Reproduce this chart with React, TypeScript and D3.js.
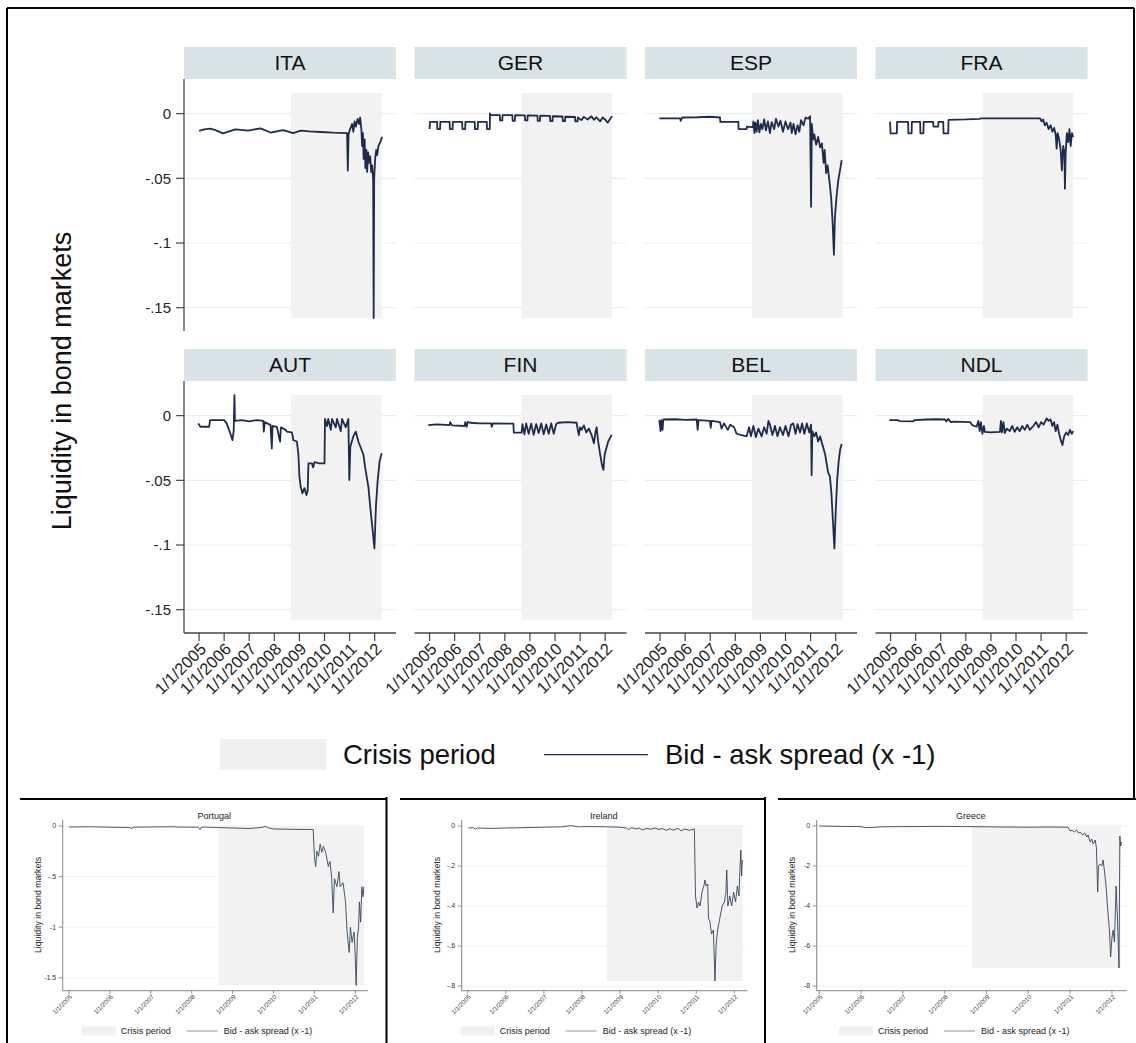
import React from "react";
import * as d3 from "d3";

type Pt = [number, number];

// ---------------- DATA ----------------
const TOP_NAMES = ["ITA", "GER", "ESP", "FRA", "AUT", "FIN", "BEL", "NDL"];

const ITA: Pt[] = [[2005.00,-0.0134],[2005.20,-0.0121],[2005.45,-0.0116],[2005.65,-0.0127],[2005.95,-0.0152],[2006.45,-0.0121],[2006.95,-0.0131],[2007.45,-0.0114],[2007.85,-0.0146],[2008.35,-0.0127],[2008.75,-0.0150],[2009.05,-0.0131],[2009.40,-0.0137],[2009.85,-0.0142],[2010.35,-0.0147],[2010.90,-0.0150],[2010.93,-0.044],[2010.96,-0.016],[2011.02,-0.012],[2011.10,-0.008],[2011.15,-0.014],[2011.20,-0.006],[2011.25,-0.010],[2011.32,-0.004],[2011.38,-0.008],[2011.42,-0.003],[2011.47,-0.012],[2011.50,-0.025],[2011.53,-0.015],[2011.56,-0.035],[2011.60,-0.020],[2011.63,-0.042],[2011.67,-0.028],[2011.70,-0.045],[2011.74,-0.030],[2011.78,-0.038],[2011.82,-0.033],[2011.86,-0.045],[2011.90,-0.040],[2011.94,-0.052],[2011.96,-0.158],[2011.98,-0.050],[2012.02,-0.035],[2012.06,-0.028],[2012.10,-0.032],[2012.15,-0.025],[2012.22,-0.022],[2012.30,-0.018]];

const GER: Pt[] = [[2005.00,-0.0119],[2005.02,-0.0063],[2005.30,-0.0063],[2005.31,-0.0119],[2005.42,-0.0119],[2005.43,-0.0063],[2005.80,-0.0063],[2005.81,-0.0119],[2005.92,-0.0119],[2005.93,-0.0063],[2006.30,-0.0063],[2006.31,-0.0119],[2006.42,-0.0119],[2006.43,-0.0063],[2006.80,-0.0063],[2006.81,-0.0119],[2006.92,-0.0119],[2006.93,-0.0063],[2007.28,-0.0063],[2007.29,-0.0119],[2007.40,-0.0119],[2007.41,0.0002],[2007.42,-0.0010],[2007.80,-0.0012],[2007.81,-0.0052],[2007.90,-0.0052],[2007.91,-0.0012],[2008.30,-0.0012],[2008.31,-0.0055],[2008.40,-0.0055],[2008.41,-0.0012],[2008.80,-0.0014],[2008.81,-0.0052],[2008.90,-0.0052],[2008.91,-0.0014],[2009.30,-0.0015],[2009.31,-0.0055],[2009.40,-0.0055],[2009.41,-0.0016],[2009.80,-0.0018],[2009.81,-0.0058],[2009.90,-0.0058],[2009.91,-0.0020],[2010.30,-0.0022],[2010.31,-0.0058],[2010.40,-0.0058],[2010.41,-0.0024],[2010.80,-0.0026],[2010.81,-0.0060],[2010.90,-0.0060],[2010.91,-0.0030],[2011.05,-0.0050],[2011.15,-0.0025],[2011.30,-0.0045],[2011.45,-0.0020],[2011.55,-0.0048],[2011.65,-0.0028],[2011.80,-0.0060],[2011.90,-0.0030],[2012.00,-0.0045],[2012.10,-0.0070],[2012.20,-0.0040],[2012.28,-0.0020]];

const ESP: Pt[] = [[2004.97,-0.0036],[2005.80,-0.0036],[2005.82,-0.0055],[2005.88,-0.0030],[2006.50,-0.0028],[2007.00,-0.0024],[2007.39,-0.0030],[2007.40,-0.0064],[2008.12,-0.0064],[2008.13,-0.0119],[2008.45,-0.0119],[2008.46,-0.0100],[2008.70,-0.0105],[2008.72,-0.0060],[2008.76,-0.0150],[2008.80,-0.0070],[2008.85,-0.0140],[2008.90,-0.0050],[2008.96,-0.0145],[2009.02,-0.0080],[2009.08,-0.0120],[2009.15,-0.0045],[2009.22,-0.0130],[2009.30,-0.0060],[2009.38,-0.0150],[2009.45,-0.0065],[2009.55,-0.0120],[2009.62,-0.0040],[2009.72,-0.0100],[2009.80,-0.0055],[2009.90,-0.0140],[2010.00,-0.0060],[2010.10,-0.0120],[2010.20,-0.0070],[2010.25,-0.0150],[2010.32,-0.0080],[2010.40,-0.0160],[2010.48,-0.0090],[2010.55,-0.0140],[2010.62,-0.0050],[2010.72,-0.0090],[2010.80,-0.0030],[2010.90,-0.0040],[2010.98,-0.0020],[2011.02,-0.0720],[2011.05,-0.0080],[2011.10,-0.0200],[2011.15,-0.0160],[2011.22,-0.0240],[2011.30,-0.0180],[2011.38,-0.0260],[2011.45,-0.0230],[2011.52,-0.0380],[2011.56,-0.0280],[2011.62,-0.0460],[2011.68,-0.0400],[2011.75,-0.0520],[2011.82,-0.0650],[2011.88,-0.0850],[2011.93,-0.1090],[2011.97,-0.0800],[2012.03,-0.0650],[2012.10,-0.0520],[2012.17,-0.0440],[2012.24,-0.0360]];

const FRA: Pt[] = [[2004.98,-0.0063],[2005.00,-0.0152],[2005.25,-0.0152],[2005.26,-0.0063],[2005.70,-0.0063],[2005.71,-0.0152],[2005.84,-0.0152],[2005.85,-0.0063],[2006.18,-0.0063],[2006.19,-0.0152],[2006.31,-0.0152],[2006.32,-0.0063],[2006.70,-0.0063],[2006.71,-0.0100],[2006.90,-0.0100],[2006.91,-0.0063],[2007.10,-0.0063],[2007.11,-0.0152],[2007.30,-0.0152],[2007.31,-0.0048],[2008.00,-0.0045],[2008.57,-0.0040],[2008.60,-0.0036],[2010.96,-0.0036],[2011.02,-0.0060],[2011.08,-0.0045],[2011.15,-0.0090],[2011.22,-0.0070],[2011.30,-0.0120],[2011.38,-0.0090],[2011.45,-0.0140],[2011.52,-0.0110],[2011.58,-0.0160],[2011.62,-0.0270],[2011.66,-0.0150],[2011.72,-0.0200],[2011.78,-0.0280],[2011.83,-0.0440],[2011.88,-0.0250],[2011.93,-0.0300],[2011.95,-0.0580],[2011.98,-0.0300],[2012.03,-0.0150],[2012.08,-0.0220],[2012.13,-0.0120],[2012.18,-0.0250],[2012.23,-0.0150],[2012.28,-0.0180]];

const AUT: Pt[] = [[2004.97,-0.0060],[2005.05,-0.0086],[2005.40,-0.0086],[2005.44,-0.0034],[2006.00,-0.0034],[2006.10,-0.0060],[2006.25,-0.0140],[2006.33,-0.0189],[2006.38,-0.0120],[2006.41,0.0159],[2006.43,-0.0040],[2006.70,-0.0034],[2007.00,-0.0045],[2007.30,-0.0034],[2007.56,-0.0040],[2007.58,-0.0124],[2007.62,-0.0050],[2007.85,-0.0073],[2007.90,-0.0253],[2007.93,-0.0080],[2008.10,-0.0086],[2008.23,-0.0201],[2008.26,-0.0090],[2008.45,-0.0110],[2008.50,-0.0124],[2008.70,-0.0130],[2008.76,-0.0190],[2008.90,-0.0200],[2008.96,-0.0300],[2009.00,-0.0470],[2009.05,-0.0550],[2009.12,-0.0600],[2009.20,-0.0560],[2009.28,-0.0614],[2009.33,-0.0580],[2009.36,-0.0369],[2009.50,-0.0369],[2009.55,-0.0400],[2009.60,-0.0360],[2009.80,-0.0369],[2010.00,-0.0369],[2010.02,-0.0026],[2010.10,-0.0080],[2010.15,-0.0026],[2010.25,-0.0110],[2010.30,-0.0026],[2010.45,-0.0090],[2010.50,-0.0026],[2010.65,-0.0120],[2010.70,-0.0026],[2010.85,-0.0090],[2010.95,-0.0026],[2010.99,-0.0498],[2011.03,-0.0240],[2011.15,-0.0160],[2011.25,-0.0124],[2011.35,-0.0200],[2011.45,-0.0250],[2011.55,-0.0300],[2011.62,-0.0400],[2011.68,-0.0472],[2011.75,-0.0550],[2011.82,-0.0700],[2011.90,-0.0850],[2011.99,-0.1026],[2012.05,-0.0700],[2012.12,-0.0500],[2012.20,-0.0350],[2012.28,-0.0291]];

const FIN: Pt[] = [[2004.95,-0.0073],[2005.30,-0.0068],[2005.80,-0.0073],[2005.82,-0.0050],[2005.90,-0.0075],[2006.40,-0.0080],[2006.42,-0.0050],[2006.48,-0.0086],[2006.52,-0.0048],[2006.61,-0.0055],[2007.00,-0.0060],[2007.45,-0.0060],[2007.48,-0.0086],[2007.52,-0.0060],[2008.34,-0.0062],[2008.36,-0.0132],[2008.67,-0.0132],[2008.70,-0.0065],[2008.78,-0.0145],[2008.85,-0.0060],[2008.95,-0.0140],[2009.05,-0.0062],[2009.15,-0.0148],[2009.25,-0.0065],[2009.35,-0.0135],[2009.45,-0.0060],[2009.55,-0.0145],[2009.65,-0.0068],[2009.75,-0.0140],[2009.85,-0.0060],[2009.95,-0.0140],[2010.05,-0.0065],[2010.13,-0.0055],[2010.50,-0.0050],[2010.86,-0.0055],[2010.90,-0.0100],[2010.95,-0.0150],[2011.00,-0.0090],[2011.06,-0.0110],[2011.15,-0.0075],[2011.25,-0.0130],[2011.35,-0.0100],[2011.46,-0.0150],[2011.55,-0.0214],[2011.62,-0.0120],[2011.66,-0.0090],[2011.72,-0.0200],[2011.80,-0.0300],[2011.87,-0.0380],[2011.93,-0.0420],[2011.98,-0.0300],[2012.05,-0.0250],[2012.12,-0.0200],[2012.20,-0.0170],[2012.26,-0.0150]];

const BEL: Pt[] = [[2004.97,-0.0034],[2005.02,-0.0120],[2005.05,-0.0034],[2005.10,-0.0110],[2005.13,-0.0030],[2005.60,-0.0028],[2006.00,-0.0032],[2006.46,-0.0030],[2006.50,-0.0110],[2006.53,-0.0035],[2006.99,-0.0040],[2007.02,-0.0095],[2007.05,-0.0040],[2007.39,-0.0050],[2007.45,-0.0100],[2007.55,-0.0060],[2007.70,-0.0110],[2007.80,-0.0070],[2007.95,-0.0090],[2008.05,-0.0140],[2008.25,-0.0150],[2008.45,-0.0160],[2008.55,-0.0090],[2008.62,-0.0160],[2008.72,-0.0080],[2008.82,-0.0165],[2008.92,-0.0100],[2009.05,-0.0160],[2009.15,-0.0090],[2009.25,-0.0140],[2009.32,-0.0040],[2009.38,-0.0070],[2009.48,-0.0150],[2009.58,-0.0080],[2009.68,-0.0160],[2009.78,-0.0090],[2009.90,-0.0150],[2010.00,-0.0080],[2010.12,-0.0160],[2010.22,-0.0070],[2010.31,-0.0060],[2010.40,-0.0140],[2010.48,-0.0065],[2010.58,-0.0130],[2010.66,-0.0060],[2010.75,-0.0140],[2010.85,-0.0060],[2010.95,-0.0130],[2011.02,-0.0070],[2011.04,-0.0460],[2011.07,-0.0120],[2011.15,-0.0160],[2011.22,-0.0130],[2011.30,-0.0200],[2011.38,-0.0160],[2011.45,-0.0210],[2011.51,-0.0250],[2011.58,-0.0300],[2011.64,-0.0370],[2011.70,-0.0440],[2011.77,-0.0470],[2011.83,-0.0600],[2011.90,-0.0850],[2011.95,-0.1026],[2012.00,-0.0750],[2012.06,-0.0500],[2012.12,-0.0350],[2012.18,-0.0260],[2012.24,-0.0220]];

const NDL: Pt[] = [[2004.95,-0.0034],[2005.31,-0.0034],[2005.35,-0.0042],[2005.91,-0.0045],[2005.95,-0.0034],[2006.44,-0.0030],[2006.80,-0.0028],[2007.17,-0.0030],[2007.22,-0.0045],[2007.30,-0.0025],[2007.40,-0.0050],[2007.50,-0.0047],[2008.17,-0.0050],[2008.25,-0.0073],[2008.43,-0.0086],[2008.50,-0.0040],[2008.55,-0.0120],[2008.60,-0.0050],[2008.66,-0.0140],[2008.72,-0.0080],[2008.76,-0.0125],[2009.00,-0.0130],[2009.36,-0.0125],[2009.40,-0.0040],[2009.44,-0.0130],[2009.50,-0.0050],[2009.55,-0.0135],[2009.63,-0.0100],[2009.75,-0.0120],[2009.85,-0.0080],[2009.95,-0.0125],[2010.05,-0.0090],[2010.15,-0.0120],[2010.25,-0.0080],[2010.35,-0.0110],[2010.45,-0.0070],[2010.55,-0.0110],[2010.69,-0.0080],[2010.80,-0.0050],[2010.90,-0.0090],[2011.00,-0.0050],[2011.10,-0.0070],[2011.22,-0.0021],[2011.30,-0.0040],[2011.38,-0.0030],[2011.45,-0.0080],[2011.52,-0.0050],[2011.58,-0.0120],[2011.65,-0.0070],[2011.72,-0.0140],[2011.80,-0.0200],[2011.85,-0.0227],[2011.92,-0.0160],[2012.00,-0.0130],[2012.08,-0.0150],[2012.15,-0.0110],[2012.22,-0.0140],[2012.28,-0.0120]];

const TOP_SERIES: Pt[][] = [ITA, GER, ESP, FRA, AUT, FIN, BEL, NDL];

const TOP_Y_TICKS = [0, -0.05, -0.1, -0.15];
const TOP_Y_LABELS = ["0", "-.05", "-.1", "-.15"];
const X_TICK_YEARS = [2005, 2006, 2007, 2008, 2009, 2010, 2011, 2012];
const X_TICK_LABELS = ["1/1/2005", "1/1/2006", "1/1/2007", "1/1/2008", "1/1/2009", "1/1/2010", "1/1/2011", "1/1/2012"];
const CRISIS_TOP: [number, number] = [2008.67, 2012.28];
const CRISIS_BOTTOM: [number, number] = [2008.65, 2012.21];

const BOTTOM_NAMES = ["Portugal", "Ireland", "Greece"];

const PORTUGAL: Pt[] = [[2005.00,-0.010],[2005.50,-0.008],[2006.00,-0.012],[2006.50,-0.015],[2006.53,-0.030],[2006.56,-0.012],[2007.00,-0.010],[2007.55,-0.008],[2007.56,0.000],[2007.58,-0.010],[2008.00,-0.012],[2008.16,-0.012],[2008.20,-0.035],[2008.24,-0.010],[2008.60,-0.015],[2009.00,-0.020],[2009.40,-0.025],[2009.70,-0.015],[2009.80,-0.005],[2009.90,-0.020],[2010.00,-0.030],[2010.50,-0.033],[2010.97,-0.035],[2011.00,-0.300],[2011.03,-0.400],[2011.06,-0.250],[2011.10,-0.300],[2011.14,-0.180],[2011.18,-0.260],[2011.22,-0.200],[2011.28,-0.270],[2011.34,-0.400],[2011.38,-0.350],[2011.42,-0.500],[2011.46,-0.860],[2011.49,-0.520],[2011.55,-0.600],[2011.60,-0.450],[2011.63,-0.600],[2011.70,-0.560],[2011.76,-0.750],[2011.80,-1.050],[2011.85,-1.250],[2011.88,-1.000],[2011.92,-1.150],[2011.97,-1.050],[2012.00,-1.300],[2012.02,-1.575],[2012.05,-1.100],[2012.08,-1.000],[2012.10,-0.750],[2012.13,-0.950],[2012.16,-0.600],[2012.19,-0.700],[2012.21,-0.600]];

const IRELAND: Pt[] = [[2005.02,-0.010],[2005.15,-0.008],[2005.20,-0.016],[2005.25,-0.010],[2005.60,-0.012],[2006.00,-0.010],[2006.50,-0.008],[2007.00,-0.006],[2007.50,-0.004],[2007.70,0.002],[2007.90,-0.004],[2008.20,-0.003],[2008.65,-0.004],[2009.00,-0.006],[2009.17,-0.010],[2009.22,-0.018],[2009.30,-0.008],[2009.42,-0.015],[2009.50,-0.010],[2009.58,-0.020],[2009.70,-0.012],[2009.80,-0.016],[2009.92,-0.010],[2010.02,-0.018],[2010.10,-0.012],[2010.22,-0.022],[2010.30,-0.014],[2010.40,-0.020],[2010.52,-0.012],[2010.60,-0.024],[2010.70,-0.015],[2010.82,-0.022],[2010.95,-0.015],[2010.98,-0.350],[2011.02,-0.410],[2011.06,-0.380],[2011.10,-0.400],[2011.15,-0.330],[2011.20,-0.300],[2011.23,-0.270],[2011.26,-0.300],[2011.30,-0.290],[2011.32,-0.460],[2011.36,-0.480],[2011.40,-0.540],[2011.45,-0.520],[2011.49,-0.775],[2011.52,-0.600],[2011.56,-0.520],[2011.62,-0.460],[2011.68,-0.400],[2011.74,-0.380],[2011.78,-0.330],[2011.80,-0.220],[2011.83,-0.400],[2011.88,-0.350],[2011.93,-0.400],[2011.98,-0.330],[2012.03,-0.380],[2012.08,-0.300],[2012.12,-0.350],[2012.15,-0.200],[2012.17,-0.120],[2012.19,-0.250],[2012.21,-0.170]];

const GREECE: Pt[] = [[2005.00,0.000],[2005.50,-0.020],[2006.00,-0.030],[2006.10,-0.080],[2006.30,-0.070],[2006.50,-0.040],[2007.00,-0.030],[2007.50,-0.025],[2008.00,-0.020],[2008.50,-0.030],[2009.00,-0.040],[2009.50,-0.050],[2010.00,-0.060],[2010.50,-0.050],[2010.95,-0.060],[2011.00,-0.250],[2011.05,-0.220],[2011.10,-0.300],[2011.15,-0.200],[2011.20,-0.350],[2011.24,-0.300],[2011.30,-0.450],[2011.35,-0.350],[2011.40,-0.550],[2011.43,-0.450],[2011.48,-0.800],[2011.52,-0.650],[2011.55,-0.900],[2011.60,-0.700],[2011.63,-1.100],[2011.66,-3.300],[2011.68,-2.000],[2011.72,-1.900],[2011.76,-2.000],[2011.79,-1.700],[2011.83,-2.400],[2011.86,-3.000],[2011.90,-4.200],[2011.94,-5.200],[2011.97,-6.550],[2012.00,-5.600],[2012.03,-5.200],[2012.06,-5.800],[2012.10,-3.000],[2012.13,-4.500],[2012.17,-7.100],[2012.19,-0.500],[2012.21,-1.000],[2012.23,-0.800]];

const BOTTOM_SERIES: Pt[][] = [PORTUGAL, IRELAND, GREECE];
const BOTTOM_Y_TICKS = [[0, -0.5, -1, -1.5], [0, -0.2, -0.4, -0.6, -0.8], [0, -2, -4, -6, -8]];
const BOTTOM_Y_LABELS = [["0", "-.5", "-1", "-1.5"], ["0", "-.2", "-.4", "-.6", "-.8"], ["0", "-2", "-4", "-6", "-8"]];
const BOTTOM_X_DOMAINS: [number, number][] = [[2004.846, 2012.31], [2004.843, 2012.35], [2004.938, 2012.354]];
const BOTTOM_Y_DOMAINS: [number, number][] = [[-1.627, 0.059], [-0.8235, 0.03], [-8.235, 0.3]];

const LEGEND_AREA = "Crisis period";
const LEGEND_LINE = "Bid - ask spread (x -1)";
const Y_TITLE = "Liquidity in bond markets";

// ---------------- LAYOUT ----------------
const FONT = "'Liberation Sans', Arial, Helvetica, sans-serif";
const W = 1136, H = 1043;
const COL_X = [184, 414.5, 645, 875.5];
const PANEL_W = 212;
const ROW_TOP = [80, 382];
const PANEL_H = 251;
const STRIP_H = 32;
const LINE_COLOR = "#1e2b4c";
const SHADE = "#f2f2f2";
const GRID = "#e9eef1";
const STRIP = "#d8e3e7";

const BOTTOM_PLOT = [
  { x0: 62.7, x1: 368, lx: 81.7 },
  { x0: 461.7, x1: 747.7, lx: 460.7 },
  { x0: 816.7, x1: 1126.7, lx: 839 },
];
const B_Y0 = 820, B_Y1 = 990.7;

function TopPanel({ idx }: { idx: number }) {
  const col = idx % 4, row = Math.floor(idx / 4);
  const x0 = COL_X[col];
  const y0 = ROW_TOP[row];
  const xs = d3.scaleLinear().domain([2004.40, 2012.85]).range([x0, x0 + PANEL_W]);
  const ys = d3.scaleLinear().domain([-0.168, 0.026]).range([y0 + PANEL_H, y0]);
  const all = TOP_SERIES.flat();
  const [mn, mx] = d3.extent(all, (d) => d[1]) as [number, number];
  const line = d3.line<Pt>().x((d) => xs(d[0])).y((d) => ys(d[1]));
  return (
    <g>
      <rect x={x0} y={y0 - STRIP_H - 1} width={PANEL_W} height={STRIP_H} fill={STRIP} />
      <text x={x0 + PANEL_W / 2} y={y0 - 10} textAnchor="middle" fontSize={21} fontFamily={FONT} fill="#111">
        {TOP_NAMES[idx]}
      </text>
      {TOP_Y_TICKS.map((t) => (
        <line key={t} x1={x0} x2={x0 + PANEL_W} y1={ys(t)} y2={ys(t)} stroke={GRID} strokeWidth={1.2} />
      ))}
      <rect
        x={xs(CRISIS_TOP[0])}
        y={ys(mx)}
        width={xs(CRISIS_TOP[1]) - xs(CRISIS_TOP[0])}
        height={ys(mn) - ys(mx)}
        fill={SHADE}
      />
      <path d={line(TOP_SERIES[idx]) || ""} fill="none" stroke={LINE_COLOR} strokeWidth={1.8} strokeLinejoin="round" />
      {col === 0 && (
        <g>
          <line x1={x0} x2={x0} y1={y0 - 1} y2={y0 + PANEL_H} stroke="#444" strokeWidth={1.3} />
          {TOP_Y_TICKS.map((t, i) => (
            <g key={t}>
              <line x1={x0 - 8} x2={x0} y1={ys(t)} y2={ys(t)} stroke="#444" strokeWidth={1.2} />
              <text x={x0 - 13} y={ys(t)} dy="0.35em" textAnchor="end" fontSize={15} fontFamily={FONT} fill="#222">
                {TOP_Y_LABELS[i]}
              </text>
            </g>
          ))}
        </g>
      )}
      {row === 1 && (
        <g>
          <line x1={x0} x2={x0 + PANEL_W} y1={y0 + PANEL_H} y2={y0 + PANEL_H} stroke="#444" strokeWidth={1.3} />
          {X_TICK_YEARS.map((yr, i) => (
            <g key={yr}>
              <line x1={xs(yr)} x2={xs(yr)} y1={y0 + PANEL_H} y2={y0 + PANEL_H + 8} stroke="#444" strokeWidth={1.2} />
              <text
                transform={`translate(${xs(yr) + 4},${y0 + PANEL_H + 13}) rotate(-45)`}
                textAnchor="end"
                dy="0.35em"
                fontSize={16.5}
                fontFamily={FONT}
                fill="#222"
              >
                {X_TICK_LABELS[i]}
              </text>
            </g>
          ))}
        </g>
      )}
    </g>
  );
}

function BottomPanel({ idx }: { idx: number }) {
  const p = BOTTOM_PLOT[idx];
  const data = BOTTOM_SERIES[idx];
  const xs = d3.scaleLinear().domain(BOTTOM_X_DOMAINS[idx]).range([p.x0, p.x1]);
  const ys = d3.scaleLinear().domain(BOTTOM_Y_DOMAINS[idx]).range([B_Y1, B_Y0]);
  const [mn, mx] = d3.extent(data, (d) => d[1]) as [number, number];
  const line = d3.line<Pt>().x((d) => xs(d[0])).y((d) => ys(d[1]));
  const ly = 1031;
  return (
    <g>
      {BOTTOM_Y_TICKS[idx].map((t) => (
        <line key={t} x1={p.x0} x2={p.x1} y1={ys(t)} y2={ys(t)} stroke="#edf0f2" strokeWidth={0.8} />
      ))}
      <rect
        x={xs(CRISIS_BOTTOM[0])}
        y={ys(Math.max(mx, 0))}
        width={xs(CRISIS_BOTTOM[1]) - xs(CRISIS_BOTTOM[0])}
        height={ys(mn) - ys(Math.max(mx, 0))}
        fill={SHADE}
      />
      <path d={line(data) || ""} fill="none" stroke="#35445f" strokeWidth={0.9} strokeLinejoin="round" />
      <text x={(p.x0 + p.x1) / 2 - 1} y={819} textAnchor="middle" fontSize={9} fontFamily={FONT} fill="#222">
        {BOTTOM_NAMES[idx]}
      </text>
      <line x1={p.x0} x2={p.x0} y1={B_Y0} y2={B_Y1} stroke="#666" strokeWidth={0.8} />
      <line x1={p.x0} x2={p.x1} y1={B_Y1} y2={B_Y1} stroke="#666" strokeWidth={0.8} />
      {BOTTOM_Y_TICKS[idx].map((t, i) => (
        <g key={t}>
          <line x1={p.x0 - 4} x2={p.x0} y1={ys(t)} y2={ys(t)} stroke="#666" strokeWidth={0.7} />
          <text x={p.x0 - 6.5} y={ys(t)} dy="0.35em" textAnchor="end" fontSize={7} fontFamily={FONT} fill="#333">
            {BOTTOM_Y_LABELS[idx][i]}
          </text>
        </g>
      ))}
      {X_TICK_YEARS.map((yr, i) => (
        <g key={yr}>
          <line x1={xs(yr)} x2={xs(yr)} y1={B_Y1} y2={B_Y1 + 3} stroke="#666" strokeWidth={0.7} />
          <text
            transform={`translate(${xs(yr) + 2},${B_Y1 + 5}) rotate(-45)`}
            textAnchor="end"
            dy="0.35em"
            fontSize={6.3}
            fontFamily={FONT}
            fill="#333"
          >
            {X_TICK_LABELS[i]}
          </text>
        </g>
      ))}
      <text
        transform={`translate(${p.x0 - 22},${905}) rotate(-90)`}
        textAnchor="middle"
        fontSize={8.7}
        fontFamily={FONT}
        fill="#222"
      >
        {Y_TITLE}
      </text>
      <rect x={p.lx} y={ly - 4.5} width={34} height={9} fill="#f0f0f0" />
      <text x={p.lx + 39} y={ly} dy="0.35em" fontSize={9} fontFamily={FONT} fill="#222">
        {LEGEND_AREA}
      </text>
      <line x1={p.lx + 105} x2={p.lx + 136} y1={ly} y2={ly} stroke="#6c7590" strokeWidth={0.8} />
      <text x={p.lx + 142} y={ly} dy="0.35em" fontSize={9} fontFamily={FONT} fill="#222">
        {LEGEND_LINE}
      </text>
    </g>
  );
}

export default function App() {
  return (
    <div style={{ position: "absolute", left: 0, top: 0, width: W, height: H, background: "#fff" }}>
      <svg width={W} height={H} viewBox={`0 0 ${W} ${H}`} style={{ display: "block" }}>
        <rect x={0} y={0} width={W} height={H} fill="#fff" />
        {TOP_NAMES.map((_, i) => (
          <TopPanel key={i} idx={i} />
        ))}
        <text
          transform="translate(71,381) rotate(-90)"
          textAnchor="middle"
          fontSize={27}
          fontFamily={FONT}
          fill="#111"
        >
          {Y_TITLE}
        </text>
        {/* main legend */}
        <rect x={219.6} y={739} width={107} height={31} fill="#f0f0f0" />
        <text x={343} y={754.6} dy="0.35em" fontSize={27.5} fontFamily={FONT} fill="#111">
          {LEGEND_AREA}
        </text>
        <line x1={544} x2={648} y1={754.6} y2={754.6} stroke={LINE_COLOR} strokeWidth={1.3} />
        <text x={665} y={754.6} dy="0.35em" fontSize={27.5} fontFamily={FONT} fill="#111">
          {LEGEND_LINE}
        </text>
        {BOTTOM_NAMES.map((_, i) => (
          <BottomPanel key={i} idx={i} />
        ))}
        {/* borders */}
        <line x1={7} x2={1134} y1={8} y2={8} stroke="#000" strokeWidth={2} />
        <line x1={1134} x2={1134} y1={8} y2={799} stroke="#000" strokeWidth={2} />
        <line x1={7} x2={7} y1={8} y2={1043} stroke="#000" strokeWidth={2} />
        <line x1={20} x2={386} y1={799} y2={799} stroke="#000" strokeWidth={2} />
        <line x1={400} x2={765} y1={799} y2={799} stroke="#000" strokeWidth={2} />
        <line x1={778} x2={1136} y1={799} y2={799} stroke="#000" strokeWidth={2} />
        <line x1={386.5} x2={386.5} y1={797} y2={1043} stroke="#000" strokeWidth={2} />
        <line x1={765} x2={765} y1={797} y2={1043} stroke="#000" strokeWidth={2} />
      </svg>
    </div>
  );
}
